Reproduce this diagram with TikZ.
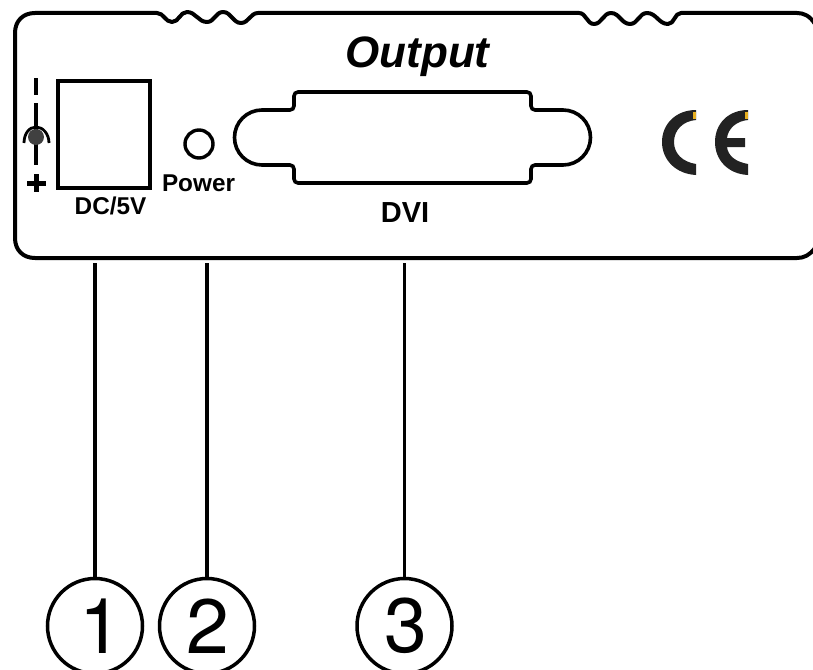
\documentclass[tikz,border=0pt]{standalone}
\usepackage{fontspec}
\setmainfont{Liberation Sans}
\newfontfamily\digitfont{TeX Gyre Heros}
\definecolor{ceblack}{HTML}{222222}
\definecolor{ceyellow}{HTML}{E8B020}
\tikzset{
  outline/.style={draw=black,line width=4pt,line join=round},
  thinline/.style={draw=black,line width=3.8pt},
  callout/.style={circle,draw=black,line width=3.5pt,minimum size=95pt,inner sep=0pt,font=\digitfont\fontsize{77}{77}\selectfont},
  lbl/.style={anchor=base,inner sep=0pt,font=\bfseries\fontsize{24.3}{25}\selectfont},
  cefill/.style={fill=ceblack,draw=none},
}
\begin{document}
\begin{tikzpicture}[x=1pt,y=-1pt]
\path[use as bounding box] (0,0) rectangle (813,669);
\clip (0,0) rectangle (813,669);
\fill[white] (0,0) rectangle (813,669);
% housing
\draw[outline] (815,24) .. controls (810,16) and (804,13) .. (797,13)
  -- (681,13) to[out=180,in=0] (668,24) to[out=180,in=0] (647,13) to[out=180,in=0] (630,24)
  to[out=180,in=0] (611,13) to[out=180,in=0] (594,24) to[out=180,in=0] (579,13)
  -- (258,13) to[out=180,in=0] (241,23) to[out=180,in=0] (223,12) to[out=180,in=0] (207,22)
  to[out=180,in=0] (187,12) to[out=180,in=0] (172,22) to[out=180,in=0] (157,13)
  -- (35,13) .. controls (23,13) and (15,21) .. (15,33)
  -- (15,238) .. controls (15,250) and (23,258) .. (35,258)
  -- (797,258) .. controls (804,258) and (810,255) .. (815,248);
% power jack symbol
\draw[line width=4.5pt] (36,78) -- (36,95);
\draw[line width=4pt] (36,103) -- (36,165);
\fill[black!75] (36,137) circle[radius=8pt];
\draw[line width=2.8pt] (24,143) .. controls (24,134) and (29,127) .. (36,127) .. controls (43,127) and (49,134) .. (49,143);
\draw[line width=5pt] (27,183) -- (46,183) (36.5,174) -- (36.5,192);
% DC socket
\node[thinline,draw,minimum width=92pt,minimum height=107pt,inner sep=0pt] (socket) at (104,134.5) {};
\node[lbl] (dc) at (110.5,214) {DC/5V};
% LED
\node[circle,draw=black,line width=3.4pt,minimum size=28pt,inner sep=0pt] (led) at (199,144) {};
\node[lbl] (power) at (198.5,191) {Power};
% DVI
\draw[draw=black,line width=3.6pt,rounded corners=4pt] (294,92) -- (531,92) -- (531,110) [sharp corners] -- (563,110)
  .. controls (578.2,110) and (590.5,122.3) .. (590.5,137.5)
  .. controls (590.5,152.7) and (578.2,165) .. (563,165)
  [rounded corners=4pt] -- (531,165) -- (531,183) -- (294,183) -- (294,165) [sharp corners] -- (262,165)
  .. controls (246.8,165) and (234.5,152.7) .. (234.5,137.5)
  .. controls (234.5,122.3) and (246.8,110) .. (262,110)
  [rounded corners=4pt] -- (294,110) -- cycle;
\node[anchor=base,inner sep=0pt,font=\bfseries\fontsize{29}{30}\selectfont] (dvi) at (405,222) {DVI};
\node[anchor=base,inner sep=0pt,font=\bfseries\itshape\fontsize{44}{45}\selectfont] (output) at (417.5,67) {Output};
% CE mark
\fill[cefill] (696,110) .. controls (676,110) and (662,124) .. (662,142) .. controls (662,160) and (676,174) .. (696,175)
  -- (696,164) .. controls (683,162) and (674,154) .. (674,142) .. controls (674,130) and (683,121) .. (696,120) -- cycle;
\fill[cefill] (748,110) .. controls (728,110) and (715,124) .. (715,142) .. controls (715,160) and (728,174) .. (748,175)
  -- (748,164) .. controls (736,162) and (728,156) .. (727,147) -- (745,147) -- (745,138) -- (727,138)
  .. controls (728,129) and (736,121) .. (748,120) -- cycle;
\fill[ceyellow] (693,112) rectangle (696,119);
\fill[ceyellow] (745,112) rectangle (748,119);
% callouts
\node[callout] (n1) at (95,626) {\hspace*{12pt}1};
\node[callout] (n2) at (207,626) {\hspace*{2pt}2};
\node[callout] (n3) at (404.5,626) {\hspace*{2pt}3};
\coordinate (p1) at (95,263);
\coordinate (p2) at (207,263);
\coordinate (p3) at (404.5,263);
\draw[thinline] (p1) -- (n1.north);
\draw[thinline] (p2) -- (n2.north);
\draw[thinline] (p3) -- (n3.north);
\end{tikzpicture}
\end{document}
